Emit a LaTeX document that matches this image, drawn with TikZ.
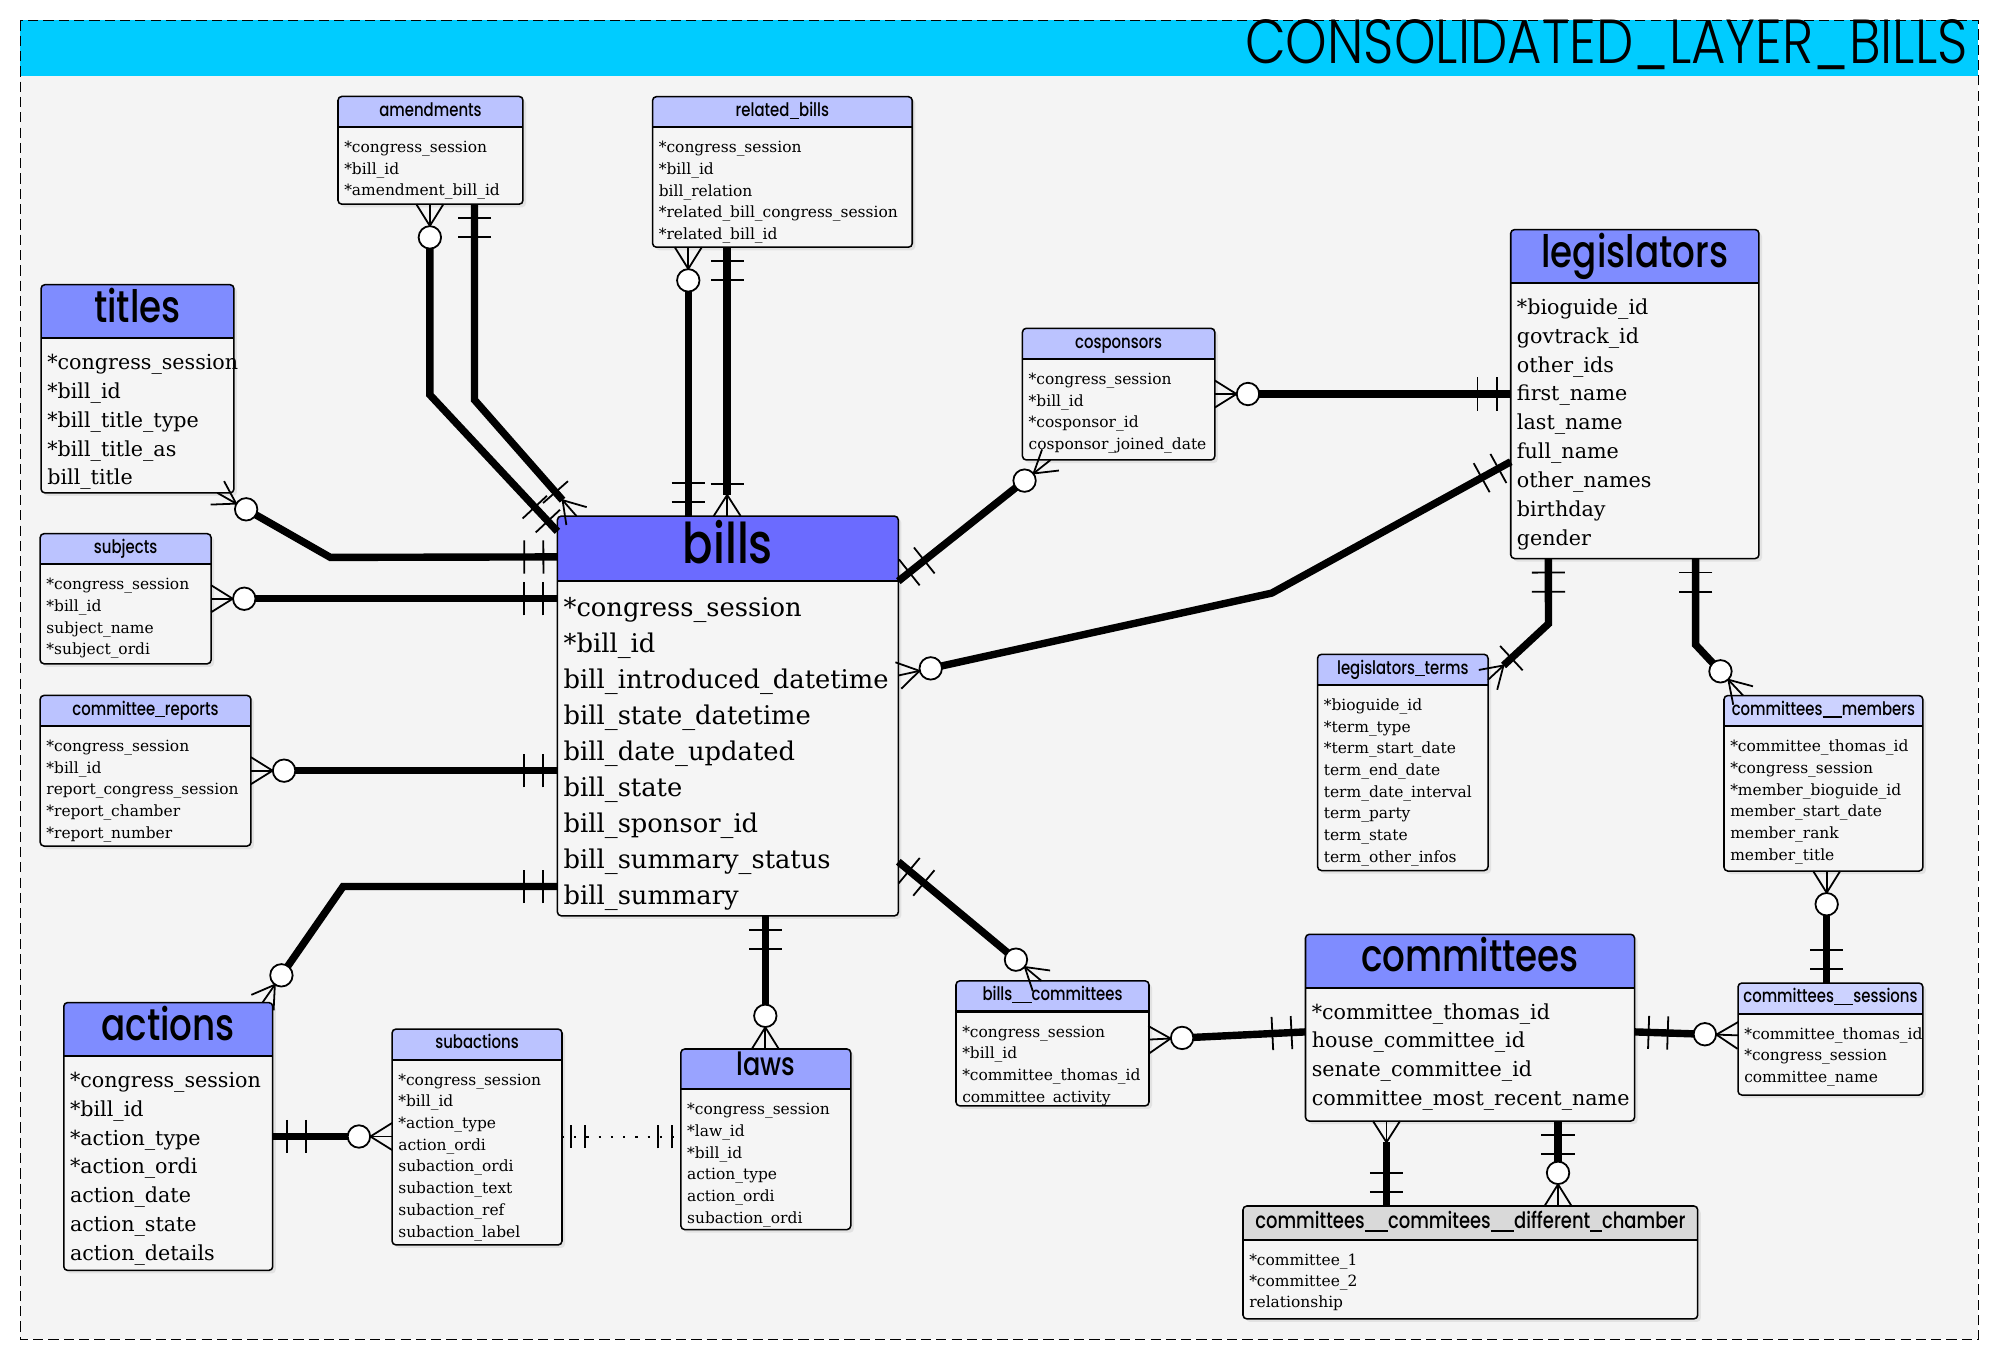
\documentclass[tikz,border=0pt]{standalone}
\usepackage{fontspec}
\setmainfont{DejaVu Serif}
\IfFontExistsTF{Poppins Medium}
  {\newfontfamily\headfont[FakeStretch=0.8]{Poppins Medium}}
  {\newfontfamily\headfont[FakeStretch=0.8]{Poppins}}
\IfFontExistsTF{Poppins Light}
  {\newfontfamily\titlefont[FakeStretch=0.85]{Poppins Light}}
  {\newfontfamily\titlefont[FakeStretch=0.85]{Poppins}}
\usetikzlibrary{calc,shadows}

\definecolor{barcyan}{HTML}{00CCFF}
\definecolor{bgfill}{HTML}{F4F4F4}
\definecolor{bodyfill}{HTML}{F5F5F5}
\definecolor{hdbills}{HTML}{6B6BFF}
\definecolor{hdbig}{HTML}{7F8CFF}
\definecolor{hdlaws}{HTML}{99A3FF}
\definecolor{hdsmall}{HTML}{BBC3FF}
\definecolor{hdpale}{HTML}{CCD2FF}
\definecolor{hdgray}{HTML}{D9D9D9}

% underscore for the table headers
\newcommand{\hu}{\rule[-0.12em]{0.52em}{0.06em}}

\tikzset{
  tbl/.style={fill=bodyfill, inner sep=0pt, outer sep=0pt, anchor=north west, rounded corners=1.5pt,
    drop shadow={shadow xshift=1.2pt, shadow yshift=-1.2pt, opacity=0.15}},
  link/.style={line width=2.9pt},
  tick/.style={line width=0.7pt},
  dotlink/.style={line width=0.6pt, dash pattern=on 0.8pt off 4pt},
  kbills/.code={\def\tabhh{51}\def\tabhb{37}\def\tabfb{27.5}\def\tabls{28.3}%
    \def\tabhf{\headfont\fontsize{22}{24}\selectfont}\def\tabbf{\fontsize{10.1}{12}\selectfont}},
  kbig/.code={\def\tabhh{42}\def\tabhb{29.5}\def\tabfb{24.5}\def\tabls{22.6}%
    \def\tabhf{\headfont\fontsize{17.5}{20}\selectfont}\def\tabbf{\fontsize{8.1}{10}\selectfont}},
  klaws/.code={\def\tabhh{31.5}\def\tabhb{21}\def\tabfb{20}\def\tabls{17}%
    \def\tabhf{\headfont\fontsize{12.5}{14}\selectfont}\def\tabbf{\fontsize{6.06}{8}\selectfont}},
  ksmall/.code={\def\tabhh{24}\def\tabhb{15.5}\def\tabfb{20}\def\tabls{17}%
    \def\tabhf{\headfont\fontsize{7.3}{9}\selectfont}\def\tabbf{\fontsize{6.06}{8}\selectfont}},
  kgray/.code={\def\tabhh{26.7}\def\tabhb{18}\def\tabfb{20}\def\tabls{16.6}%
    \def\tabhf{\headfont\fontsize{8.8}{11}\selectfont}\def\tabbf{\fontsize{6.06}{8}\selectfont}},
}

% name, kind, header colour, x, y, width, height, title, rows
\newcommand{\dbtable}[9]{%
  \tikzset{#2}%
  \node[tbl, minimum width=#6*0.5pt, minimum height=#7*0.5pt] (#1) at (#4,#5) {};
  \begin{scope}
    \clip[rounded corners=1.5pt] (#1.north west) rectangle (#1.south east);
    \fill[#3] (#1.north west) rectangle ($(#1.north east)+(0,\tabhh)$);
  \end{scope}
  \draw[line width=0.8pt] ($(#1.north west)+(0,\tabhh)$) -- ($(#1.north east)+(0,\tabhh)$);
  \draw[line width=0.6pt, rounded corners=1.5pt] (#1.north west) rectangle (#1.south east);
  \node[font=\tabhf, inner sep=0pt, anchor=base] (#1-title) at ($(#1.north)+(0,\tabhb)$) {#8};
  \foreach \row [count=\i] in {#9}
    \node[font=\tabbf, inner sep=0pt, anchor=base west] (#1-\i) at ($(#1.north west)+(4.5,{\tabhh+\tabfb+(\i-1)*\tabls})$) {\row};
}

\newcommand{\onlyone}[2]{%
  \foreach \d in {5.5pt,13pt}
    \draw[tick] ($(#1)!\d!(#2)!6.5pt!90:(#2)$) -- ($(#1)!\d!(#2)!6.5pt!-90:(#2)$);}
\newcommand{\thinone}[2]{%
  \foreach \d in {3.5pt,9pt}
    \draw[line width=0.6pt] ($(#1)!\d!(#2)!4.5pt!90:(#2)$) -- ($(#1)!\d!(#2)!4.5pt!-90:(#2)$);}
\newcommand{\crowfoot}[3]{%
  \draw[tick] ($(#1)!5.3pt!90:(#2)$) -- ($(#1)!#3!(#2)$) -- ($(#1)!5.3pt!-90:(#2)$);
  \draw[tick] (#1) -- ($(#1)!#3!(#2)$);}
\newcommand{\zeromany}[2]{%
  \crowfoot{#1}{#2}{8.5pt}
  \draw[tick, fill=white] ($(#1)!13pt!(#2)$) circle[radius=4.4pt];}
\newcommand{\onemany}[2]{%
  \crowfoot{#1}{#2}{8.3pt}
  \draw[tick] ($(#1)!12.5pt!(#2)!6.5pt!90:(#2)$) -- ($(#1)!12.5pt!(#2)!6.5pt!-90:(#2)$);}

\begin{document}
\begin{tikzpicture}[x=0.5pt, y=-0.5pt]
  \useasboundingbox (0,0) rectangle (1568,1066);
  \fill[white] (0,0) rectangle (1568,1066);
  \fill[bgfill] (16,16) rectangle (1551,1050);
  \fill[barcyan] (16,16) rectangle (1551,59.6);
  \draw[line width=0.5pt, dash pattern=on 4pt off 2pt] (16,16) rectangle (1551,1050);
  \node[font=\titlefont\fontsize{24.4}{27}\selectfont, anchor=base east, inner sep=0pt] (layer) at (1543,49.7) {CONSOLIDATED\_LAYER\_BILLS};

  % tables
  \dbtable{amendments}{ksmall}{hdsmall}{265}{75.6}{145}{84.5}{amendments}{*congress\_session,*bill\_id,*amendment\_bill\_id}
  \dbtable{rbills}{ksmall}{hdsmall}{511.6}{75.8}{203.6}{118}{related\hu bills}{*congress\_session,*bill\_id,bill\_relation,*related\_bill\_congress\_session,*related\_bill\_id}
  \dbtable{titles}{kbig}{hdbig}{32.2}{223.2}{151.2}{163.2}{titles}{*congress\_session,*bill\_id,*bill\_title\_type,*bill\_title\_as,bill\_title}
  \dbtable{subjects}{ksmall}{hdsmall}{31.5}{418.4}{134}{102}{subjects}{*congress\_session,*bill\_id,subject\_name,*subject\_ordi}
  \dbtable{creports}{ksmall}{hdsmall}{31.5}{545.2}{165.2}{118.1}{committee\hu reports}{*congress\_session,*bill\_id,report\_congress\_session,*report\_chamber,*report\_number}
  \dbtable{bills}{kbills}{hdbills}{437}{404.6}{267.3}{313.4}{bills}{*congress\_session,*bill\_id,bill\_introduced\_datetime,bill\_state\_datetime,bill\_date\_updated,bill\_state,bill\_sponsor\_id,bill\_summary\_status,bill\_summary}
  \dbtable{cosponsors}{ksmall}{hdsmall}{801.6}{257.4}{150.8}{103.2}{cosponsors}{*congress\_session,*bill\_id,*cosponsor\_id,cosponsor\_joined\_date}
  \dbtable{legislators}{kbig}{hdbig}{1184.4}{180}{194.6}{257.9}{legislators}{*bioguide\_id,govtrack\_id,other\_ids,first\_name,last\_name,full\_name,other\_names,birthday,gender}
  \dbtable{lterms}{ksmall}{hdsmall}{1033}{513}{133.6}{169.5}{legislators\hu terms}{*bioguide\_id,*term\_type,*term\_start\_date,term\_end\_date,term\_date\_interval,term\_party,term\_state,term\_other\_infos}
  \dbtable{cmembers}{ksmall}{hdpale}{1351.6}{545.3}{155.9}{137.6}{committees\hu\hu members}{*committee\_thomas\_id,*congress\_session,*member\_bioguide\_id,member\_start\_date,member\_rank,member\_title}
  \dbtable{csessions}{ksmall}{hdpale}{1362.6}{770.7}{144.9}{87.8}{committees\hu\hu sessions}{*committee\_thomas\_id,*congress\_session,committee\_name}
  \dbtable{committees}{kbig}{hdbig}{1023.5}{732.5}{258}{146.4}{committees}{*committee\_thomas\_id,house\_committee\_id,senate\_committee\_id,committee\_most\_recent\_name}
  \dbtable{ccdc}{kgray}{hdgray}{974.5}{945.5}{356.5}{88.5}{committees\hu\hu commitees\hu\hu different\hu chamber}{*committee\_1,*committee\_2,relationship}
  \dbtable{bcomm}{ksmall}{hdsmall}{749.5}{769}{151.3}{98}{bills\hu\hu committees}{*congress\_session,*bill\_id,*committee\_thomas\_id,committee\_activity}
  \dbtable{actions}{kbig}{hdbig}{50}{786}{163.8}{210}{actions}{*congress\_session,*bill\_id,*action\_type,*action\_ordi,action\_date,action\_state,action\_details}
  \dbtable{subactions}{ksmall}{hdsmall}{307.4}{806.8}{133.2}{169.2}{subactions}{*congress\_session,*bill\_id,*action\_type,action\_ordi,subaction\_ordi,subaction\_text,subaction\_ref,subaction\_label}
  \dbtable{laws}{klaws}{hdlaws}{533.8}{822.4}{133.2}{141.6}{laws}{*congress\_session,*law\_id,*bill\_id,action\_type,action\_ordi,subaction\_ordi}

  % links
  \coordinate (ti) at ($(titles.south east)+(-13,0)$);
  \coordinate (ti-k) at (259,437);
  \coordinate (bi-ti) at ($(bills.north west)+(0,32)$);
  \draw[link, shorten <=13pt] (ti) -- (ti-k) -- (bi-ti);
  \zeromany{ti}{ti-k}
  \onlyone{bi-ti}{ti-k}

  \coordinate (su) at ($(subjects.north east)+(0,51)$);
  \coordinate (bi-su) at (bills.west |- su);
  \draw[link, shorten <=13pt] (su) -- (bi-su);
  \zeromany{su}{bi-su}
  \onlyone{bi-su}{su}

  \coordinate (cr) at ($(creports.north east)+(0,59)$);
  \coordinate (bi-cr) at (bills.west |- cr);
  \draw[link, shorten <=13pt] (cr) -- (bi-cr);
  \zeromany{cr}{bi-cr}
  \onlyone{bi-cr}{cr}

  \coordinate (ac) at ($(actions.north east)+(-8,0)$);
  \coordinate (ac-k) at (269,695);
  \coordinate (bi-ac) at (bills.west |- ac-k);
  \draw[link, shorten <=13pt] (ac) -- (ac-k) -- (bi-ac);
  \zeromany{ac}{ac-k}
  \onlyone{bi-ac}{ac-k}

  \coordinate (am1) at ($(amendments.south west)+(72,0)$);
  \coordinate (am1-k) at (337,309.5);
  \coordinate (bi-am1) at ($(bills.north west)+(0,12)$);
  \draw[link, shorten <=13pt] (am1) -- (am1-k) -- (bi-am1);
  \zeromany{am1}{am1-k}
  \onlyone{bi-am1}{am1-k}

  \coordinate (am2) at ($(amendments.south west)+(107,0)$);
  \coordinate (am2-k) at (372,313.5);
  \coordinate (bi-am2) at ($(bills.north west)+(15,0)$);
  \draw[link, shorten >=8.3pt] (am2) -- (am2-k) -- (bi-am2);
  \onlyone{am2}{am2-k}
  \onemany{bi-am2}{am2-k}

  \coordinate (rb1) at ($(rbills.south west)+(28,0)$);
  \coordinate (bi-rb1) at (bills.north -| rb1);
  \draw[link, shorten <=13pt] (rb1) -- (bi-rb1);
  \zeromany{rb1}{bi-rb1}
  \onlyone{bi-rb1}{rb1}

  \coordinate (rb2) at ($(rbills.south west)+(58.5,0)$);
  \coordinate (bi-rb2) at (bills.north -| rb2);
  \draw[link, shorten >=8.3pt] (rb2) -- (bi-rb2);
  \onlyone{rb2}{bi-rb2}
  \onemany{bi-rb2}{rb2}

  \coordinate (bi-co) at ($(bills.north east)+(0,51)$);
  \coordinate (co) at ($(cosponsors.south west)+(22,0)$);
  \draw[link, shorten <=13pt] (co) -- (bi-co);
  \zeromany{co}{bi-co}
  \onlyone{bi-co}{co}

  \coordinate (co-le) at ($(cosponsors.north east)+(0,51.5)$);
  \coordinate (le-co) at (legislators.west |- co-le);
  \draw[link, shorten <=13pt] (co-le) -- (le-co);
  \zeromany{co-le}{le-co}
  \onlyone{le-co}{co-le}

  \coordinate (bi-le) at ($(bills.north east)+(0,125)$);
  \coordinate (bi-le-k) at (997,465);
  \coordinate (le-bi) at ($(legislators.north west)+(0,182)$);
  \draw[link, shorten <=13pt] (bi-le) -- (bi-le-k) -- (le-bi);
  \zeromany{bi-le}{bi-le-k}
  \onlyone{le-bi}{bi-le-k}

  \coordinate (le-lt) at ($(legislators.south west)+(29.5,0)$);
  \coordinate (le-lt-k) at (1214,489);
  \coordinate (lt) at ($(lterms.north east)+(0,20)$);
  \draw[link, shorten >=8.3pt] (le-lt) -- (le-lt-k) -- (lt);
  \onlyone{le-lt}{le-lt-k}
  \onemany{lt}{le-lt-k}

  \coordinate (le-cm) at ($(legislators.south west)+(145,0)$);
  \coordinate (le-cm-k) at (1329.4,505.5);
  \coordinate (cm) at ($(cmembers.north west)+(15,0)$);
  \draw[link, shorten >=13pt] (le-cm) -- (le-cm-k) -- (cm);
  \onlyone{le-cm}{le-cm-k}
  \zeromany{cm}{le-cm-k}

  \coordinate (cm-cs) at ($(cmembers.south west)+(80.5,0)$);
  \coordinate (cs-cm) at (csessions.north -| cm-cs);
  \draw[link, shorten <=13pt] (cm-cs) -- (cs-cm);
  \zeromany{cm-cs}{cs-cm}
  \onlyone{cs-cm}{cm-cs}

  \coordinate (bi-la) at ($(bills.south west)+(163,0)$);
  \coordinate (la) at (laws.north -| bi-la);
  \draw[link, shorten >=13pt] (bi-la) -- (la);
  \onlyone{bi-la}{la}
  \zeromany{la}{bi-la}

  \coordinate (bi-bc) at ($(bills.north east)+(0,271)$);
  \coordinate (bc) at ($(bcomm.north west)+(67,0)$);
  \draw[link, shorten >=13pt] (bi-bc) -- (bc);
  \onlyone{bi-bc}{bc}
  \zeromany{bc}{bi-bc}

  \coordinate (bc-cmt) at ($(bcomm.north east)+(0,46)$);
  \coordinate (cmt-bc) at ($(committees.north west)+(0,76.5)$);
  \draw[link, shorten <=13pt] (bc-cmt) -- (cmt-bc);
  \zeromany{bc-cmt}{cmt-bc}
  \onlyone{cmt-bc}{bc-cmt}

  \coordinate (cmt-cs) at ($(committees.north east)+(0,76.5)$);
  \coordinate (cs) at ($(csessions.north west)+(0,41)$);
  \draw[link, shorten >=13pt] (cmt-cs) -- (cs);
  \onlyone{cmt-cs}{cs}
  \zeromany{cs}{cmt-cs}

  \coordinate (cmt-cc1) at ($(committees.south west)+(63.5,0)$);
  \coordinate (cc1) at (ccdc.north -| cmt-cc1);
  \draw[link, shorten <=8.3pt] (cmt-cc1) -- (cc1);
  \crowfoot{cmt-cc1}{cc1}{8.3pt}
  \onlyone{cc1}{cmt-cc1}

  \coordinate (cmt-cc2) at ($(committees.south west)+(198,0)$);
  \coordinate (cc2) at (ccdc.north -| cmt-cc2);
  \draw[link, shorten >=13pt] (cmt-cc2) -- (cc2);
  \onlyone{cmt-cc2}{cc2}
  \zeromany{cc2}{cmt-cc2}

  \coordinate (ac-sa) at ($(actions.north east)+(0,105)$);
  \coordinate (sa) at (subactions.west |- ac-sa);
  \draw[link, shorten >=13pt] (ac-sa) -- (sa);
  \onlyone{ac-sa}{sa}
  \zeromany{sa}{ac-sa}

  \coordinate (sa-la) at ($(subactions.north east)+(0,84.5)$);
  \coordinate (la-sa) at (laws.west |- sa-la);
  \draw[dotlink] (sa-la) -- (la-sa);
  \thinone{sa-la}{la-sa}
  \thinone{la-sa}{sa-la}
\end{tikzpicture}
\end{document}
